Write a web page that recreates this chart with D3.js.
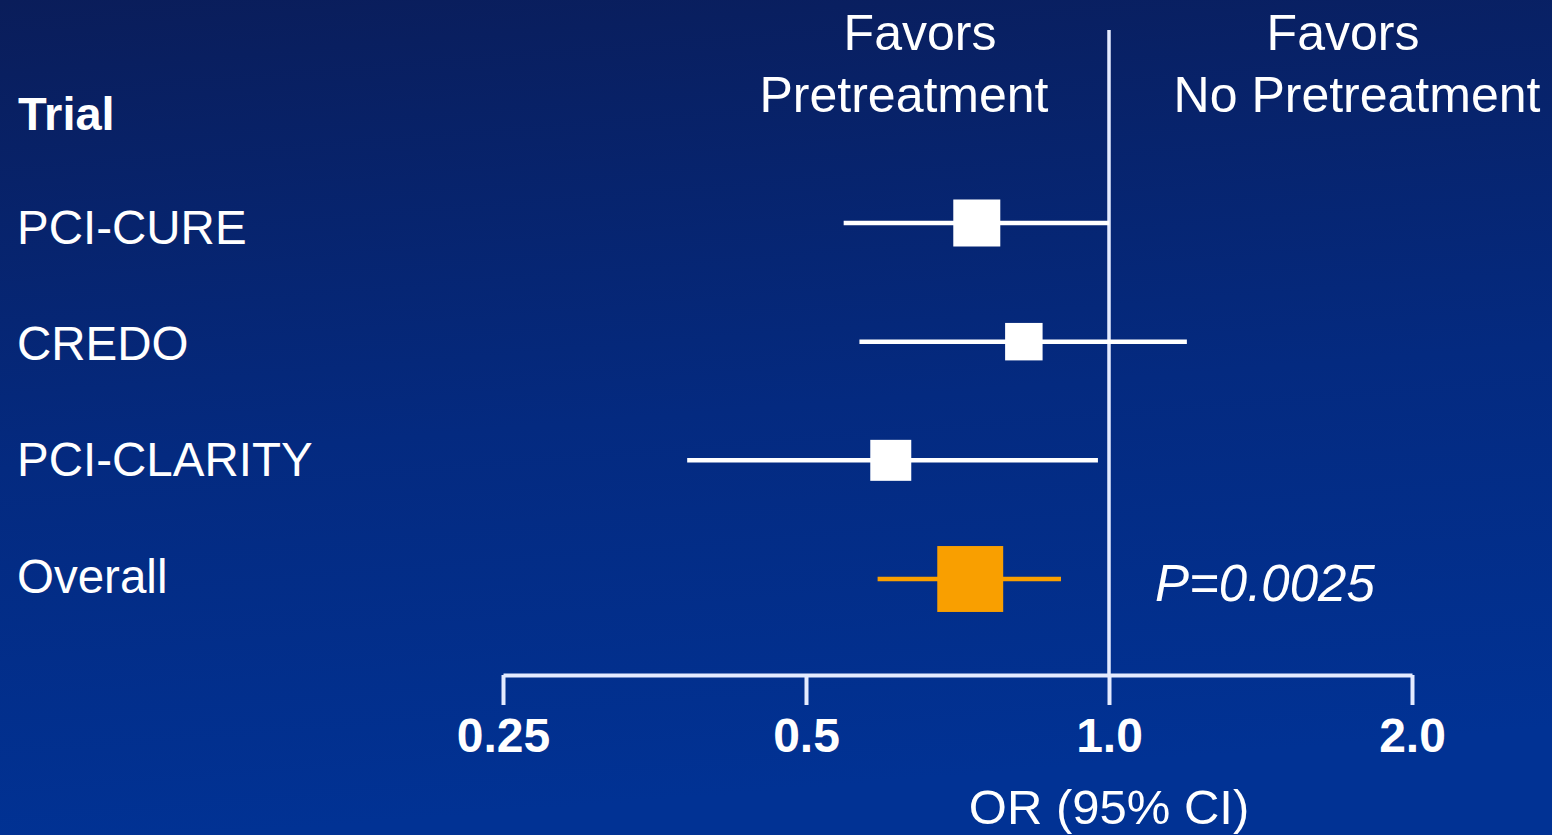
<!DOCTYPE html>
<html>
<head>
<meta charset="utf-8">
<script src="https://cdn.jsdelivr.net/npm/d3@7.9.0/dist/d3.min.js"></script>
<style>
  html, body { margin: 0; padding: 0; background: #0a2a7a; overflow: hidden; }
  svg { display: block; font-family: "Liberation Sans", Arial, sans-serif; }
</style>
</head>
<body>
<div id="chart"></div>
<script>
// trials, odds ratios and 95% CI
const trials = ["PCI-CURE", "CREDO", "PCI-CLARITY", "Overall"];
const oddsRatio = [0.739, 0.823, 0.607, 0.728];
const ciLower = [0.545, 0.565, 0.381, 0.589];
const ciUpper = [1.0, 1.195, 0.975, 0.896];
const weights = [41.7, 26.5, 31.7, 82]; // relative box area

const tickValues = [0.25, 0.5, 1, 2];
const tickLabels = ["0.25", "0.5", "1.0", "2.0"];

const favorsLeft = ["Favors", "Pretreatment"];
const favorsRight = ["Favors", "No Pretreatment"];
const pValue = "P=0.0025";

const rows = trials.map((name, i) => ({
  name,
  or: oddsRatio[i],
  lo: ciLower[i],
  hi: ciUpper[i],
  w: weights[i],
  overall: name === "Overall",
}));

const width = 1552;
const height = 835;
const axisY = 675;

const svg = d3.select("#chart")
  .append("svg")
  .attr("width", width)
  .attr("height", height);

// background gradient
const grad = svg.append("defs").append("linearGradient")
  .attr("id", "bg")
  .attr("x1", 0).attr("y1", 0).attr("x2", 0.15).attr("y2", 1);
grad.append("stop").attr("offset", "0%").attr("stop-color", "#0a1d5a");
grad.append("stop").attr("offset", "55%").attr("stop-color", "#042a80");
grad.append("stop").attr("offset", "100%").attr("stop-color", "#013294");

svg.append("rect")
  .attr("width", width)
  .attr("height", height)
  .attr("fill", "url(#bg)");

// scales
const x = d3.scaleLog()
  .base(2)
  .domain([0.25, 2])
  .range([503, 1412]);

const y = d3.scalePoint()
  .domain(trials)
  .range([223, 579]);

const size = d3.scaleSqrt()
  .domain([0, 100])
  .range([0, 72.8]);

const lineColor = "#e4ebff";
const orange = "#f99f00";

// reference line at OR = 1
svg.append("line")
  .attr("x1", x(1)).attr("x2", x(1))
  .attr("y1", 30).attr("y2", axisY)
  .attr("stroke", lineColor)
  .attr("stroke-width", 3.5);

// x axis
const axis = svg.append("g")
  .attr("transform", `translate(0,${axisY})`)
  .call(d3.axisBottom(x)
    .tickValues(tickValues)
    .tickFormat((d, i) => tickLabels[i])
    .tickSize(30)
    .tickSizeOuter(0));

axis.select(".domain")
  .attr("stroke", lineColor)
  .attr("stroke-width", 4);

axis.selectAll(".tick line")
  .attr("stroke", lineColor)
  .attr("stroke-width", 4);

axis.selectAll(".tick text")
  .attr("fill", "#ffffff")
  .attr("font-size", 48)
  .attr("font-weight", "bold")
  .attr("font-family", "'Liberation Sans', Arial, sans-serif")
  .attr("y", 77)
  .attr("dy", 0);

svg.append("text")
  .attr("x", x(1))
  .attr("y", 824)
  .attr("text-anchor", "middle")
  .attr("fill", "#ffffff")
  .attr("font-size", 49)
  .text("OR (95% CI)");

// confidence intervals
svg.append("g")
  .selectAll("line")
  .data(rows)
  .join("line")
  .attr("x1", d => x(d.lo))
  .attr("x2", d => x(d.hi))
  .attr("y1", d => y(d.name))
  .attr("y2", d => y(d.name))
  .attr("stroke", d => d.overall ? orange : "#ffffff")
  .attr("stroke-width", 4.5);

// boxes
svg.append("g")
  .selectAll("rect")
  .data(rows)
  .join("rect")
  .attr("x", d => x(d.or) - size(d.w) / 2)
  .attr("y", d => y(d.name) - size(d.w) / 2)
  .attr("width", d => size(d.w))
  .attr("height", d => size(d.w))
  .attr("fill", d => d.overall ? orange : "#ffffff");

// row labels
svg.append("text")
  .attr("x", 18)
  .attr("y", 130)
  .attr("fill", "#ffffff")
  .attr("font-size", 47)
  .attr("font-weight", "bold")
  .text("Trial");

svg.append("g")
  .selectAll("text")
  .data(rows)
  .join("text")
  .attr("x", 17)
  .attr("y", (d, i) => y(d.name) + 21 - i * 2.5)
  .attr("fill", "#ffffff")
  .attr("font-size", 47.5)
  .text(d => d.name);

// header labels
const headers = [
  { lines: favorsLeft, cx: [920, 904] },
  { lines: favorsRight, cx: [1343, 1357] },
];
headers.forEach(h => {
  svg.append("g")
    .selectAll("text")
    .data(h.lines)
    .join("text")
    .attr("x", (d, i) => h.cx[i])
    .attr("y", (d, i) => 50 + i * 62)
    .attr("text-anchor", "middle")
    .attr("fill", "#ffffff")
    .attr("font-size", 50)
    .text(d => d);
});

// p value
svg.append("text")
  .attr("x", 1155)
  .attr("y", 601)
  .attr("fill", "#ffffff")
  .attr("font-size", 51)
  .attr("font-style", "italic")
  .text(pValue);
</script>
</body>
</html>
